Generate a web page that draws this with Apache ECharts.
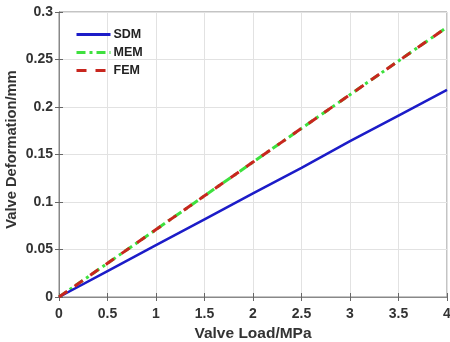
<!DOCTYPE html>
<html><head><meta charset="utf-8">
<script src="https://cdn.jsdelivr.net/npm/echarts@6/dist/echarts.min.js"></script>
<style>html,body{margin:0;padding:0;background:#fff}#c{width:450px;height:342px}</style>
</head><body><div id="c"></div>
<script>
const loads = [0, 0.5, 1, 1.5, 2, 2.5, 3, 3.5, 4];
const sdm = [0, 0.0273, 0.0545, 0.0818, 0.109, 0.136, 0.164, 0.191, 0.218];
const mem = [0, 0.0355, 0.071, 0.1065, 0.142, 0.1775, 0.213, 0.2485, 0.284];
const fem = [0, 0.0355, 0.071, 0.1065, 0.142, 0.1775, 0.213, 0.2485, 0.284];
const seriesNames = ['SDM', 'MEM', 'FEM'];
const xTitle = 'Valve Load/MPa';
const yTitle = 'Valve Deformation/mm';

const font = 'Liberation Sans, Arial, sans-serif';
const pair = a => loads.map((x, i) => [x, a[i]]);
const chart = echarts.init(document.getElementById('c'));
const labelStyle = {color: '#333', fontSize: 14, fontWeight: 'bold', fontFamily: font};
chart.setOption({
  animation: false,
  backgroundColor: '#fff',
  grid: {left: 59, right: 3, top: 12, bottom: 45, show: true, borderColor: '#888', borderWidth: 1,
         containLabel: false, outerBoundsMode: 'none'},
  legend: {
    orient: 'vertical', left: 70, top: 23, itemWidth: 34, itemHeight: 12, itemGap: 5,
    itemStyle: {opacity: 0},
    lineStyle: {width: 3},
    textStyle: {color: '#222', fontSize: 12.5, fontWeight: 'bold', fontFamily: font, padding: [0,0,0,-2]},
    data: seriesNames
  },
  xAxis: [{
    type: 'value', min: 0, max: 4, interval: 0.5,
    name: xTitle, nameLocation: 'middle', nameGap: 28,
    nameTextStyle: {color: '#333', fontSize: 15.5, fontWeight: 'bold', fontFamily: font},
    axisLine: {show: true, lineStyle: {color: '#888'}},
    axisTick: {inside: true, length: 4, lineStyle: {color: '#666'}},
    axisLabel: Object.assign({margin: 10}, labelStyle),
    splitLine: {show: true, lineStyle: {color: '#e2e2e2'}}
  }, {
    type: 'value', min: 0, max: 4, interval: 0.5, position: 'top',
    axisLine: {show: true, lineStyle: {color: '#888'}},
    axisTick: {inside: true, length: 4, lineStyle: {color: '#666'}},
    axisLabel: {show: false}, splitLine: {show: false}
  }],
  yAxis: [{
    type: 'value', min: 0, max: 0.3, interval: 0.05,
    name: yTitle, nameLocation: 'middle', nameGap: 40, nameMoveOverlap: false,
    nameTextStyle: {color: '#333', fontSize: 14.7, fontWeight: 'bold', fontFamily: font, padding: [0, 0, 0, 10]},
    axisLine: {show: true, lineStyle: {color: '#888'}},
    axisTick: {show: true, inside: true, length: 4, lineStyle: {color: '#666'}},
    axisLabel: Object.assign({margin: 6}, labelStyle),
    splitLine: {show: true, lineStyle: {color: '#e2e2e2'}}
  }, {
    type: 'value', min: 0, max: 0.3, interval: 0.05, position: 'right',
    axisLine: {show: true, lineStyle: {color: '#888'}},
    axisTick: {show: true, inside: true, length: 4, lineStyle: {color: '#666'}},
    axisLabel: {show: false}, splitLine: {show: false}
  }],
  series: [
    {name: seriesNames[0], type: 'line', data: pair(sdm), showSymbol: false, symbol: 'none',
     color: '#1c1cc8', lineStyle: {width: 2.5, color: '#1c1cc8'}, z: 3},
    {name: seriesNames[1], type: 'line', data: pair(mem), showSymbol: false, symbol: 'none',
     color: '#3ee03e', lineStyle: {width: 3, color: '#3ee03e', type: [9, 4, 3, 4]}, z: 2},
    {name: seriesNames[2], type: 'line', data: pair(fem), showSymbol: false, symbol: 'none',
     color: '#c8261e', lineStyle: {width: 3, color: '#c8261e', type: [10, 9]}, z: 4}
  ]
});
</script></body></html>
